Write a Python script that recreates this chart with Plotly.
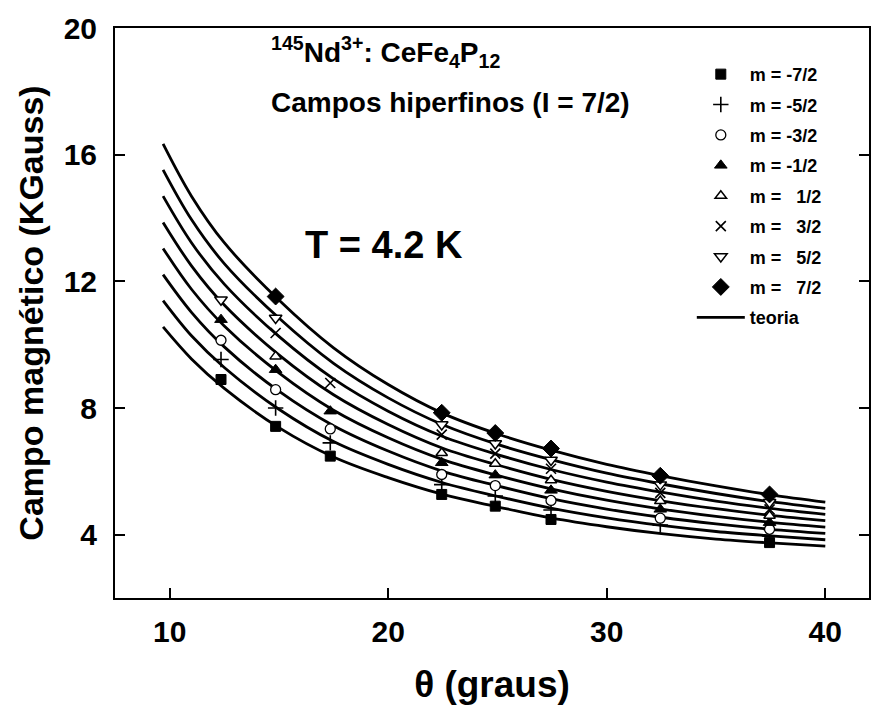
import plotly.graph_objects as go

# --- theoretical curves ("teoria"), one per m, read at these angles ---
theta_teo = [9.7, 11, 12.5, 15, 17.5, 20, 22.5, 25, 27.5, 30, 32.5, 35, 37.5, 40]
teo_m_m7 = [10.56, 9.55, 8.62, 7.38, 6.45, 5.80, 5.27, 4.88, 4.52, 4.25, 4.03, 3.86, 3.74, 3.64]
teo_m_m5 = [11.39, 10.28, 9.28, 7.96, 6.94, 6.22, 5.64, 5.21, 4.83, 4.53, 4.29, 4.10, 3.96, 3.84]
teo_m_m3 = [12.21, 11.02, 9.93, 8.53, 7.44, 6.64, 6.00, 5.54, 5.13, 4.81, 4.55, 4.34, 4.17, 4.04]
teo_m_m1 = [13.04, 11.75, 10.59, 9.11, 7.93, 7.06, 6.37, 5.87, 5.44, 5.09, 4.81, 4.58, 4.39, 4.24]
teo_m_p1 = [13.86, 12.49, 11.25, 9.68, 8.42, 7.48, 6.73, 6.20, 5.74, 5.37, 5.07, 4.82, 4.61, 4.44]
teo_m_p3 = [14.69, 13.22, 11.91, 10.26, 8.92, 7.90, 7.10, 6.53, 6.05, 5.66, 5.34, 5.06, 4.83, 4.64]
teo_m_p5 = [15.52, 13.95, 12.56, 10.84, 9.41, 8.32, 7.47, 6.85, 6.36, 5.94, 5.60, 5.30, 5.04, 4.83]
teo_m_p7 = [16.34, 14.69, 13.22, 11.41, 9.90, 8.74, 7.83, 7.18, 6.66, 6.22, 5.86, 5.54, 5.26, 5.03]

# --- measured hyperfine fields (KGauss) vs theta (graus) ---
x_m_m7 = [12.35, 14.85, 17.35, 22.45, 24.9, 27.45, 37.45]
y_m_m7 = [8.90, 7.42, 6.48, 5.27, 4.90, 4.48, 3.75]
x_m_m5 = [12.35, 14.85, 17.35, 22.45, 24.9, 27.45, 32.45, 37.45]
y_m_m5 = [9.53, 8.00, 6.90, 5.58, 5.22, 4.78, 4.30, 3.96]
x_m_m3 = [12.35, 14.85, 17.35, 22.45, 24.9, 27.45, 32.45, 37.45]
y_m_m3 = [10.14, 8.58, 7.34, 5.90, 5.55, 5.08, 4.52, 4.17]
x_m_m1 = [12.35, 14.85, 17.35, 22.45, 24.9, 27.45, 32.45, 37.45]
y_m_m1 = [10.79, 9.21, 7.90, 6.27, 5.88, 5.40, 4.80, 4.38]
x_m_p1 = [14.85, 22.45, 24.9, 27.45, 32.45, 37.45]
y_m_p1 = [9.63, 6.58, 6.24, 5.72, 5.06, 4.60]
x_m_p3 = [14.85, 17.35, 22.45, 24.9, 27.45, 32.45, 37.45]
y_m_p3 = [10.37, 8.79, 7.16, 6.56, 6.08, 5.32, 4.80]
x_m_p5 = [12.35, 14.85, 22.45, 24.9, 27.45, 32.45, 37.45]
y_m_p5 = [11.42, 10.84, 7.48, 6.88, 6.36, 5.58, 5.02]
x_m_p7 = [14.85, 22.45, 24.9, 27.45, 32.45, 37.45]
y_m_p7 = [11.52, 7.85, 7.21, 6.72, 5.86, 5.27]

legend_labels = ["m = -7/2", "m = -5/2", "m = -3/2", "m = -1/2",
                 "m =\u00a0\u00a0 1/2", "m =\u00a0\u00a0 3/2", "m =\u00a0\u00a0 5/2", "m =\u00a0\u00a0 7/2"]
x_ticks = [10, 20, 30, 40]
y_ticks = [4, 8, 12, 16, 20]

FONT = "Liberation Sans, Arial, sans-serif"

curves = [teo_m_m7, teo_m_m5, teo_m_m3, teo_m_m1, teo_m_p1, teo_m_p3, teo_m_p5, teo_m_p7]
xs = [x_m_m7, x_m_m5, x_m_m3, x_m_m1, x_m_p1, x_m_p3, x_m_p5, x_m_p7]
ys = [y_m_m7, y_m_m5, y_m_m3, y_m_m1, y_m_p1, y_m_p3, y_m_p5, y_m_p7]

marker_styles = [
    dict(symbol="square", size=10, color="black", line=dict(color="black", width=1)),
    dict(symbol="cross-thin", size=11, color="black", line=dict(color="black", width=1.6)),
    dict(symbol="circle", size=10, color="white", line=dict(color="black", width=1.3)),
    dict(symbol="triangle-up", size=11, color="black", line=dict(color="black", width=1)),
    dict(symbol="triangle-up", size=10, color="white", line=dict(color="black", width=1.5)),
    dict(symbol="x-thin", size=10, color="black", line=dict(color="black", width=1.6)),
    dict(symbol="triangle-down", size=11, color="white", line=dict(color="black", width=1.5)),
    dict(symbol="diamond", size=13, color="black", line=dict(color="black", width=1)),
]

fig = go.Figure()

for i, cy in enumerate(curves):
    fig.add_trace(go.Scatter(
        x=theta_teo, y=cy, mode="lines",
        line=dict(color="black", width=2.8, shape="spline", smoothing=1.0),
        name="teoria", legendgroup="teoria", legendrank=100,
        showlegend=(i == 0), hoverinfo="skip",
    ))

for i in range(8):
    fig.add_trace(go.Scatter(
        x=xs[i], y=ys[i], mode="markers",
        marker=marker_styles[i], name=legend_labels[i],
        legendgroup=f"g{i}", legendrank=i + 1,
    ))

axis_common = dict(
    showgrid=False, zeroline=False, showline=True, linecolor="black", linewidth=2,
    ticks="inside", ticklen=10, tickwidth=2, tickcolor="black",
    tickfont=dict(family=FONT, size=30, color="black", weight="bold"),
)

fig.update_layout(
    width=873, height=706,
    margin=dict(l=115, r=2, t=28, b=108),
    paper_bgcolor="white", plot_bgcolor="white",
    xaxis=dict(range=[7.5, 42], tickvals=x_ticks, mirror=True, ticklabelstandoff=6,
               title=dict(text="θ (graus)", standoff=24,
                          font=dict(family=FONT, size=37, color="black", weight="bold")),
               **axis_common),
    yaxis=dict(range=[2, 20], tickvals=y_ticks, mirror="ticks", ticklabelstandoff=10,
               title=dict(text="Campo magnético (KGauss)", standoff=10,
                          font=dict(family=FONT, size=34, color="black", weight="bold")),
               **axis_common),
    legend=dict(x=0.765, y=0.951, xanchor="left", yanchor="top",
                bgcolor="rgba(0,0,0,0)", borderwidth=0,
                font=dict(family=FONT, size=18, color="black", weight="bold"),
                traceorder="grouped", tracegroupgap=4, itemwidth=48),
    showlegend=True,
    annotations=[
        dict(text="<sup>145</sup>Nd<sup>3+</sup>: CeFe<sub>4</sub>P<sub>12</sub>",
             xref="paper", yref="paper", x=(270 - 115) / 757, y=1 - (52 - 28) / 570,
             xanchor="left", yanchor="middle", showarrow=False,
             font=dict(family=FONT, size=28, color="black", weight="bold")),
        dict(text="Campos hiperfinos (I = 7/2)",
             xref="paper", yref="paper", x=(270 - 115) / 757, y=1 - (103 - 28) / 570,
             xanchor="left", yanchor="middle", showarrow=False,
             font=dict(family=FONT, size=28, color="black", weight="bold")),
        dict(text="T = 4.2 K",
             xref="paper", yref="paper", x=(304 - 115) / 757, y=1 - (245 - 28) / 570,
             xanchor="left", yanchor="middle", showarrow=False,
             font=dict(family=FONT, size=38, color="black", weight="bold")),
    ],
)

fig.write_html("out.html")
